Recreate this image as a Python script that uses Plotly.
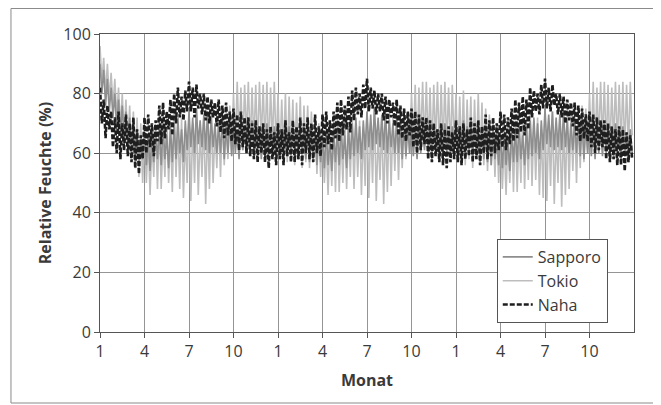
import plotly.graph_objects as go

# Samples per month: 8, 36 months (3 years)
SAMPLES_PER_MONTH = 8

naha = [
    82, 70, 78, 65, 76, 68, 74, 62,   72, 60, 74, 58, 70, 61, 73, 59,
    70, 57, 72, 55, 68, 53, 66, 58,   72, 60, 73, 62, 70, 59, 71, 64,
    76, 63, 77, 65, 74, 68, 78, 66,   80, 70, 82, 72, 79, 71, 81, 74,
    84, 74, 82, 72, 83, 75, 80, 73,   80, 71, 79, 70, 78, 72, 77, 69,
    78, 67, 76, 65, 77, 66, 74, 64,   75, 63, 73, 61, 74, 62, 72, 60,
    72, 59, 70, 58, 71, 57, 69, 60,   70, 57, 68, 55, 69, 58, 67, 56,
    70, 58, 68, 56, 71, 59, 67, 57,   71, 57, 69, 58, 72, 56, 70, 60,
    72, 58, 70, 57, 73, 60, 69, 59,   73, 62, 74, 63, 71, 61, 74, 65,
    77, 64, 78, 66, 76, 68, 79, 67,   81, 71, 82, 73, 80, 72, 83, 75,
    85, 74, 82, 75, 81, 73, 80, 74,   80, 71, 79, 70, 78, 72, 77, 69,
    78, 66, 76, 65, 75, 64, 74, 66,   75, 62, 74, 60, 73, 61, 72, 63,
    72, 58, 71, 57, 70, 59, 68, 57,   70, 56, 68, 55, 69, 57, 67, 58,
    71, 57, 69, 56, 70, 58, 68, 59,   72, 57, 70, 58, 71, 56, 69, 60,
    73, 58, 71, 59, 72, 60, 70, 61,   74, 62, 73, 61, 72, 63, 75, 64,
    78, 65, 77, 67, 79, 66, 78, 68,   82, 72, 81, 74, 80, 73, 83, 75,
    85, 75, 82, 74, 83, 76, 80, 73,   80, 72, 79, 70, 78, 71, 77, 69,
    77, 66, 76, 64, 75, 65, 73, 64,   74, 62, 73, 60, 72, 61, 71, 62,
    71, 58, 70, 57, 69, 58, 68, 56,   69, 56, 68, 54, 67, 57, 66, 58,
]

tokio = [
    96, 84, 92, 80, 90, 78, 87, 76,   85, 72, 82, 68, 80, 66, 78, 62,
    76, 58, 74, 55, 72, 52, 70, 50,   68, 50, 66, 46, 64, 52, 70, 48,
    72, 48, 66, 52, 74, 50, 68, 47,   74, 52, 70, 48, 72, 45, 66, 50,
    73, 44, 70, 50, 75, 46, 68, 52,   72, 43, 70, 48, 74, 50, 69, 55,
    72, 52, 74, 56, 70, 58, 76, 60,   80, 62, 84, 64, 82, 61, 83, 65,
    84, 62, 82, 63, 83, 61, 84, 64,   83, 62, 84, 60, 82, 63, 84, 61,
    80, 58, 78, 60, 80, 57, 79, 59,   78, 56, 77, 58, 79, 55, 76, 57,
    76, 55, 74, 57, 72, 53, 70, 52,   68, 50, 65, 46, 67, 49, 70, 47,
    72, 47, 67, 50, 73, 48, 69, 52,   73, 48, 70, 52, 71, 46, 68, 49,
    74, 45, 70, 50, 75, 44, 67, 51,   71, 43, 70, 47, 74, 49, 72, 54,
    73, 51, 72, 55, 75, 58, 74, 60,   80, 63, 83, 60, 82, 64, 84, 62,
    84, 62, 82, 60, 83, 63, 84, 61,   83, 61, 84, 62, 82, 60, 83, 62,
    80, 57, 79, 59, 81, 56, 78, 58,   79, 55, 78, 58, 80, 57, 77, 56,
    75, 54, 73, 56, 71, 52, 70, 50,   67, 48, 64, 46, 66, 50, 69, 47,
    71, 47, 68, 50, 73, 48, 70, 51,   74, 49, 71, 51, 72, 46, 68, 45,
    75, 44, 71, 49, 74, 43, 67, 50,   72, 42, 70, 46, 75, 48, 73, 54,
    73, 50, 72, 55, 76, 57, 75, 60,   80, 62, 84, 60, 82, 64, 84, 63,
    84, 61, 83, 60, 82, 63, 84, 62,   83, 62, 84, 60, 83, 61, 84, 66,
]

sapporo = [
    90, 80, 88, 76, 85, 74, 82, 72,   80, 68, 78, 66, 76, 64, 74, 62,
    72, 60, 70, 58, 68, 56, 66, 58,   68, 56, 66, 54, 67, 57, 68, 58,
    68, 56, 70, 58, 66, 55, 69, 57,   70, 58, 72, 60, 68, 57, 71, 61,
    74, 62, 72, 60, 75, 63, 71, 62,   73, 61, 74, 60, 72, 62, 70, 60,
    70, 60, 72, 58, 69, 60, 71, 59,   70, 60, 68, 58, 71, 61, 69, 60,
    70, 60, 71, 59, 69, 61, 68, 58,   68, 58, 70, 60, 67, 59, 69, 61,
    70, 60, 68, 58, 71, 61, 69, 60,   70, 59, 68, 58, 70, 60, 67, 58,
    68, 57, 69, 58, 66, 56, 67, 57,   66, 55, 68, 56, 65, 54, 67, 57,
    68, 56, 70, 58, 66, 55, 69, 58,   70, 59, 72, 60, 69, 58, 71, 61,
    74, 62, 73, 61, 75, 63, 72, 62,   73, 61, 74, 60, 71, 62, 70, 60,
    71, 60, 72, 58, 70, 59, 69, 60,   70, 59, 68, 58, 71, 60, 69, 61,
    70, 60, 69, 58, 70, 61, 68, 59,   68, 58, 70, 60, 67, 59, 69, 60,
    70, 59, 68, 58, 71, 60, 69, 61,   69, 58, 70, 59, 67, 57, 68, 58,
    68, 57, 67, 56, 69, 58, 66, 56,   66, 55, 67, 56, 65, 54, 68, 57,
    68, 57, 70, 58, 66, 56, 69, 58,   71, 59, 72, 60, 70, 58, 71, 61,
    75, 63, 73, 62, 74, 61, 72, 62,   73, 61, 74, 62, 71, 60, 70, 61,
    71, 60, 72, 59, 70, 58, 69, 60,   70, 59, 69, 58, 71, 60, 68, 59,
    70, 60, 69, 59, 68, 58, 70, 60,   68, 58, 69, 59, 67, 57, 68, 60,
]

tick_values = [1, 4, 7, 10, 13, 16, 19, 22, 25, 28, 31, 34]
tick_labels = ["1", "4", "7", "10", "1", "4", "7", "10", "1", "4", "7", "10"]
y_ticks = [0, 20, 40, 60, 80, 100]

x = [1 + i / SAMPLES_PER_MONTH for i in range(len(naha))]

FONT = "Open Sans, Noto Sans, sans-serif"
TXT = "#3a3a3a"

fig = go.Figure()
fig.add_trace(go.Scatter(x=x, y=tokio, mode="lines", name="Tokio",
                         line=dict(color="#bdbdbd", width=1.6), legendrank=2))
fig.add_trace(go.Scatter(x=x, y=sapporo, mode="lines", name="Sapporo",
                         line=dict(color="#8e8e8e", width=1.6), legendrank=1))
fig.add_trace(go.Scatter(x=x, y=naha, mode="lines", name="Naha",
                         line=dict(color="#1e1e1e", width=2.6, dash="5px,2px"),
                         legendrank=3))

# outer frame
fig.add_shape(type="rect", xref="paper", yref="paper",
              x0=-0.1667, x1=1.0393, y0=-0.2383, y1=1.0856,
              line=dict(color="#8a8a8a", width=1), layer="below")

fig.update_layout(
    width=653, height=397,
    margin=dict(l=92, r=27, t=26, b=73),
    paper_bgcolor="white", plot_bgcolor="white",
    font=dict(family=FONT, size=16, color=TXT),
    showlegend=True,
    legend=dict(
        x=0.743, y=0.312, xanchor="left", yanchor="top",
        bgcolor="white", bordercolor="#555555", borderwidth=1,
        font=dict(family=FONT, size=16, color=TXT),
        itemwidth=30,
        entrywidth=82, entrywidthmode="pixels",
        tracegroupgap=0,
    ),
    xaxis=dict(
        range=[1, 37], tickmode="array", tickvals=tick_values, ticktext=tick_labels,
        showgrid=True, gridcolor="#959595", gridwidth=1,
        showline=True, linecolor="#555555", linewidth=1, mirror=True,
        ticks="outside", ticklen=5, tickcolor="#555555",
        zeroline=False,
        title=dict(text="<b>Monat</b>", font=dict(family=FONT, size=16, color=TXT),
                   standoff=13),
    ),
    yaxis=dict(
        range=[0, 100], tickmode="array", tickvals=y_ticks,
        showgrid=True, gridcolor="#959595", gridwidth=1,
        showline=True, linecolor="#555555", linewidth=1, mirror=True,
        ticks="outside", ticklen=5, tickcolor="#555555",
        zeroline=False,
        title=dict(text="<b>Relative Feuchte (%)</b>",
                   font=dict(family=FONT, size=16, color=TXT), standoff=7),
    ),
)

fig.write_html("out.html")
